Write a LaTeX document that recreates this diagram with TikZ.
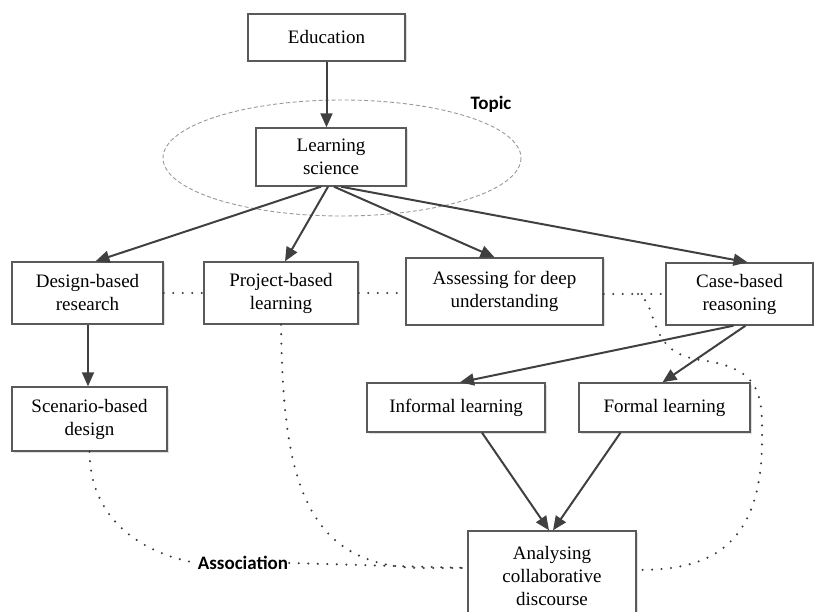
\documentclass[tikz,border=0pt]{standalone}
\usepackage{fontspec}
\setmainfont{Liberation Serif}
\newfontfamily\labelfont{Carlito}
\usetikzlibrary{arrows.meta,shadows}
\definecolor{boxline}{HTML}{5A5A5A}
\definecolor{arrowc}{HTML}{404040}
\definecolor{dotc}{HTML}{3A3A3A}
\tikzset{
  box/.style={draw=boxline, line width=1.4pt, fill=white, align=center, inner sep=0pt,
    font=\fontsize{19}{23}\selectfont,
    drop shadow={shadow xshift=1.5pt, shadow yshift=-1.5pt, fill=black!25}},
  arr/.style={draw=arrowc, line width=2pt, -{Triangle[length=14pt,width=12pt]}},
  dotline/.style={draw=dotc, line width=2.3pt, line cap=round, dash pattern=on 0pt off 9.5pt},
  tag/.style={font=\labelfont\bfseries\fontsize{19}{22}\selectfont, inner sep=1pt}
}
\begin{document}
\begin{tikzpicture}[x=1pt,y=-1pt]
\useasboundingbox (0,0) rectangle (814,612);
% topic ellipse
\draw[draw=black!40, line width=0.9pt, dash pattern=on 4pt off 2.5pt] (342,158) ellipse [x radius=179, y radius=58];
\node[tag] (topic) at (491,104) {Topic};
% boxes
\node[box, minimum width=157pt, minimum height=47pt] (edu) at (326.5,37.5) {Education};
\node[box, minimum width=150pt, minimum height=58pt] (learn) at (331,157) {Learning\\science};
\node[box, minimum width=151pt, minimum height=62pt] (dbr) at (87.5,293) {Design-based\\research};
\node[box, minimum width=154pt, minimum height=62pt] (pbl) at (281,293) {Project-based\\learning};
\node[box, minimum width=197pt, minimum height=67pt] (adu) at (504.5,291.5) {Assessing for deep\\understanding};
\node[box, minimum width=147pt, minimum height=62pt] (cbr) at (739.5,294) {Case-based\\reasoning};
\node[box, minimum width=155pt, minimum height=64pt] (sbd) at (89.5,419) {Scenario-based\\design};
\node[box, minimum width=178pt, minimum height=49pt] (inf) at (456,407.5) {Informal learning};
\node[box, minimum width=171pt, minimum height=49pt] (form) at (664.5,407.5) {Formal learning};
\node[box, minimum width=168pt, minimum height=90pt] (ana) at (552,576) {Analysing\\collaborative\\discourse};
\node[tag] (assoc) at (243,563) {Association};
% arrows
\draw[arr] (edu.south) -- (edu.south|-learn.north);
\draw[arr] ([xshift=-10pt]learn.south) -- ([xshift=8pt]dbr.north);
\draw[arr] ([xshift=-3pt]learn.south) -- ([xshift=4pt]pbl.north);
\draw[arr] ([xshift=3pt]learn.south) -- ([xshift=-10pt]adu.north);
\draw[arr] ([xshift=10pt]learn.south) -- ([xshift=8pt]cbr.north);
\draw[arr] ([xshift=0.5pt]dbr.south) -- ([xshift=0.5pt]dbr.south|-sbd.north);
\draw[arr] ([xshift=-6pt]cbr.south) -- ([xshift=4pt]inf.north);
\draw[arr] ([xshift=6pt]cbr.south) -- ([xshift=-2pt]form.north);
\draw[arr] ([xshift=26pt]inf.south) -- ([xshift=-3pt]ana.north);
\draw[arr] ([xshift=-44pt]form.south) -- ([xshift=1pt]ana.north);
% dotted associations
\draw[dotline] (dbr.east) -- (pbl.west);
\draw[dotline] (pbl.east) -- (adu.west|-pbl.east);
\draw[dotline] (adu.east|-cbr.west) -- (cbr.west);
\coordinate (br) at (638,294);
\draw[dotline] (br) .. controls (660,305) and (645,352) .. (700,360)
  .. controls (765,368) and (762,400) .. (762,440)
  .. controls (762,555) and (700,570) .. ([yshift=6pt]ana.east);
\draw[dotline] (pbl.south) .. controls (283,470) and (300,566) .. (420,568) -- ([yshift=8pt]ana.west);
\draw[dotline] (sbd.south) .. controls (90,525) and (150,555) .. (assoc.west);
\draw[dotline] (assoc.east) -- ([yshift=8pt]ana.west);
\end{tikzpicture}
\end{document}
